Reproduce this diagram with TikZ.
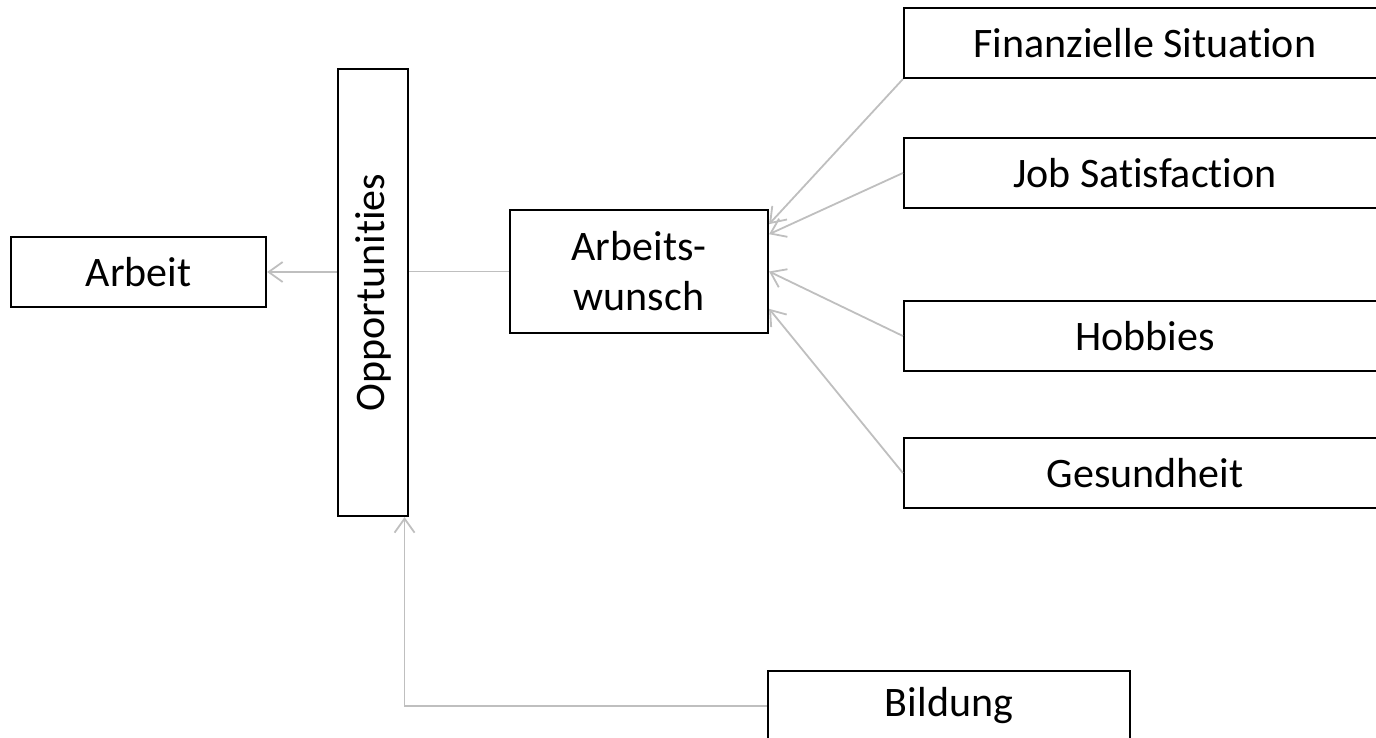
\documentclass[tikz,border=0pt]{standalone}
\usepackage{fontspec}
\setmainfont{Carlito}[Ligatures=NoCommon]
\usepackage{xcolor}
\usepackage{graphicx}
\usepackage{tikz}
\usetikzlibrary{arrows.meta}
\usetikzlibrary{positioning}

\tikzset{
  box/.style={draw, line width=2.2pt, inner sep=0pt, minimum height=70pt,
    align=center, font=\fontsize{42}{50}\selectfont},
  factor/.style={box, minimum width=482pt},
  link/.style={gray!50, line width=1.8pt},
}

\begin{document}
\begin{tikzpicture}[x=1pt,y=-1pt,>={Straight Barb[length=14pt,width=20pt]}]
\clip (0,0) rectangle (1376,738);
\node[box, minimum width=255pt] at (138.5,272) (arbeit) {Arbeit};
\node[box, minimum width=70pt, minimum height=447pt] at (373,292.5) (opp) {\rotatebox{90}{Opportunities}};
\node[box, minimum width=258pt, minimum height=123pt] at (639,271.5) (wunsch) {Arbeits-\\wunsch};
\node[factor] at (1145,43) (finanz) {Finanzielle Situation};
\node[factor] at (1145,173) (job) {Job Satisfaction};
\node[factor] at (1145,336) (hobby) {Hobbies};
\node[factor] at (1145,473) (gesund) {Gesundheit};
\node[box, minimum width=362pt] at (949,706) (bildung) {Bildung};
\path[link,->] (opp.west |- arbeit.east) edge (arbeit.east);
\path[link] (opp.east |- wunsch.west) edge (wunsch.west);
\path[link,->] (finanz.south west) edge (wunsch.20);
\path[link,->] (job.west) edge (wunsch.16);
\path[link,->] (hobby.west) edge (wunsch.east);
\path[link,->] (gesund.west) edge (wunsch.-16);
\draw[link,->] (bildung.west) -| (opp.-82);
\end{tikzpicture}
\end{document}
